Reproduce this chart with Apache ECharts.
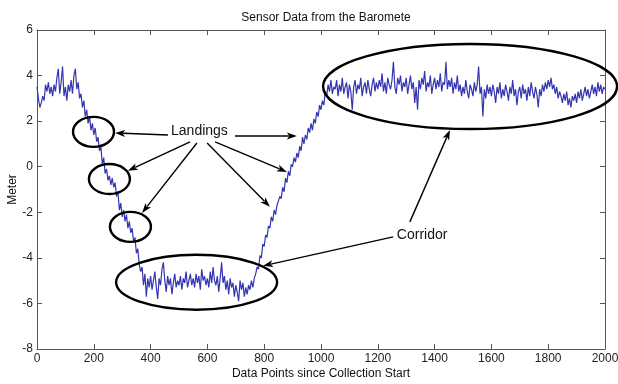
<!DOCTYPE html>
<html><head><meta charset="utf-8">
<script src="https://cdn.jsdelivr.net/npm/echarts@6/dist/echarts.min.js"></script>
<style>html,body{margin:0;padding:0;background:#fff}#c{width:618px;height:384px}</style>
</head><body><div id="c"></div>
<script>
// sampling step (data points) between stored readings
const STEP = 5;
// x = 0 .. 395 : start level and stepped descent with three landings
const descent = [
 3.5, 3.0, 2.6, 2.8, 3.1, 2.9, 3.6, 3.3, 3.7, 3.2,
 3.5, 3.1, 3.6, 3.3, 3.9, 4.3, 3.2, 3.7, 4.4, 3.1,
 3.5, 2.9, 3.6, 3.3, 3.8, 3.2, 4.0, 4.3, 3.4, 3.7,
 3.0, 3.2, 2.6, 2.9, 2.2, 2.5, 1.9, 2.2, 1.6, 1.9,
 1.4, 1.7, 1.1, 1.3, 0.7, 0.9, 0.1, 0.4, -0.3, -0.1,
 -0.6, -0.4, -0.8, -0.5, -0.9, -0.7, -1.3, -1.1, -1.9, -1.6,
 -2.2, -1.9, -2.4, -2.1, -2.7, -2.4, -2.9, -2.7, -3.3, -3.1,
 -3.8, -3.6, -4.3, -4.6, -4.4, -5.2, -4.7, -5.7, -4.9, -5.3
];
// x = 400 .. 745 : bottom level
const bottom = [
 -4.8, -5.4, -5.0, -4.6, -5.3, -5.8, -4.9, -5.2, -4.5, -4.2,
 -5.0, -5.5, -4.8, -5.2, -4.9, -5.6, -5.1, -4.7, -5.3, -5.0,
 -5.2, -4.8, -5.4, -4.9, -5.1, -4.6, -5.3, -5.0, -4.7, -5.2,
 -4.9, -5.3, -4.7, -5.1, -4.8, -5.4, -4.5, -5.0, -4.8, -5.2,
 -4.9, -5.3, -4.6, -5.1, -4.4, -5.0, -5.2, -4.8, -5.5, -4.9,
 -4.2, -5.1, -4.8, -5.4, -5.0, -5.6, -4.9, -5.3, -5.1, -5.7,
 -5.2, -5.5, -5.9, -5.0, -5.4, -5.1, -5.7, -5.3, -5.6, -5.2
];
// x = 750 .. 1045 : corridor climb
const climb = [
 -5.4, -5.0, -5.3, -4.9, -4.7, -4.4, -4.5, -3.9, -4.0, -3.4,
 -3.5, -3.0, -3.1, -2.6, -2.7, -2.2, -2.4, -1.9, -2.1, -1.7,
 -1.7, -1.3, -1.4, -0.9, -1.1, -0.5, -0.7, -0.2, -0.4, 0.1,
 0.0, 0.4, 0.2, 0.6, 0.4, 0.9, 0.7, 1.3, 1.0, 1.4,
 1.2, 1.7, 1.5, 1.9, 1.6, 2.1, 1.9, 2.4, 2.2, 2.7,
 2.5, 2.9, 2.7, 3.3, 3.1, 3.6, 3.3, 3.8, 3.2, 3.5
];
// x = 1050 .. 2000 : top level
const plateau = [
 3.4, 3.8, 3.1, 3.6, 3.3, 3.9, 3.2, 3.5, 3.7, 3.0,
 3.6, 3.3, 2.5, 3.5, 3.8, 3.2, 3.6, 3.4, 3.9, 3.1,
 3.5, 3.7, 3.2, 3.8, 3.4, 3.1, 3.6, 3.9, 3.3, 3.7,
 3.4, 3.8, 3.5, 4.1, 3.3, 3.7, 3.2, 3.9, 3.6, 3.4,
 3.8, 4.6, 3.5, 3.2, 3.9, 3.6, 4.0, 3.3, 3.7, 3.5,
 3.9, 3.2, 3.6, 4.0, 3.4, 3.7, 2.8, 3.5, 2.5, 3.8,
 3.4, 3.9, 3.6, 4.2, 3.3, 3.7, 3.5, 4.0, 3.2, 3.6,
 3.9, 3.4, 3.8, 3.5, 4.1, 3.3, 3.7, 3.6, 4.6, 3.4,
 3.8, 3.5, 3.9, 3.2, 3.7, 3.4, 4.0, 3.3, 3.6, 3.1,
 3.5, 3.2, 3.8, 3.3, 3.0, 3.6, 3.4, 3.1, 3.7, 3.3,
 3.6, 4.4, 3.2, 3.5, 2.2, 3.4, 3.0, 3.6, 3.2, 3.5,
 3.1, 3.6, 3.3, 2.8, 3.5, 3.2, 3.7, 3.0, 3.4, 3.1,
 3.6, 3.3, 2.9, 3.5, 3.2, 3.8, 3.1, 3.4, 2.7, 3.3,
 3.5, 3.0, 3.6, 3.2, 3.4, 2.9, 3.5, 3.1, 3.7, 3.3,
 3.0, 3.5, 3.2, 2.6, 3.4, 3.1, 3.6, 3.3, 3.7, 3.4,
 3.8, 3.5, 3.9, 3.4, 3.6, 3.2, 3.5, 3.0, 3.3, 3.1,
 2.8, 3.2, 2.9, 3.3, 2.7, 3.0, 2.6, 3.1, 2.9, 3.2,
 2.8, 3.3, 3.0, 3.4, 2.9, 3.2, 3.5, 3.1, 3.4, 3.0,
 3.3, 3.6, 3.2, 3.5, 3.1, 3.7, 3.3, 3.6, 3.2, 3.5,
 3.4
];
const TITLE = 'Sensor Data from the Baromete';
const X_NAME = 'Data Points since Collection Start';
const Y_NAME = 'Meter';

const values = descent.concat(bottom, climb, plateau);
const seriesData = values.map((v, i) => [i * STEP, v]);

// annotations, anchored in data coordinates (radii in px)
const ellipses = [
  {x: 199, y: 1.53, rx: 20.5, ry: 15},
  {x: 255, y: -0.54, rx: 20.5, ry: 15},
  {x: 329, y: -2.64, rx: 20.5, ry: 15},
  {x: 562, y: -5.07, rx: 80.5, ry: 27.5},
  {x: 1525, y: 3.52, rx: 147, ry: 42.5}
];
const labels = [
  {text: 'Landings', x: 572, y: 1.57},
  {text: 'Corridor', x: 1356, y: -3.0}
];
const arrows = [
  {from: [461, 1.39], to: [275, 1.48]},
  {from: [539, 1.09], to: [320, -0.18]},
  {from: [563, 1.04], to: [370, -2.03]},
  {from: [599, 1.04], to: [820, -1.76]},
  {from: [627, 1.09], to: [880, -0.23]},
  {from: [697, 1.35], to: [915, 1.35]},
  {from: [1254, -3.08], to: [796, -4.35]},
  {from: [1313, -2.42], to: [1454, 1.61]}
];

const FONT = '"Liberation Sans", Arial, Helvetica, sans-serif';
const axisLine = {show: true, onZero: false, lineStyle: {color: '#555', width: 1}};
const tick = {show: true, inside: true, length: 5, lineStyle: {color: '#555'}};
const lbl = {color: '#222', fontSize: 12, fontFamily: FONT, margin: 4, formatter: v => String(v)};

const chart = echarts.init(document.getElementById('c'), null, {renderer: 'canvas'});
chart.setOption({
  animation: false,
  backgroundColor: '#fff',
  title: {text: TITLE, left: 321, top: 7, textAlign: 'center',
    textStyle: {fontSize: 12, fontWeight: 'normal', color: '#111', fontFamily: FONT}},
  grid: {left: 37, right: 13, top: 30, bottom: 35, containLabel: false, outerBoundsMode: 'none'},
  xAxis: [
    {type: 'value', min: 0, max: 2000, interval: 200, position: 'bottom',
     name: X_NAME, nameLocation: 'middle', nameGap: 19, nameMoveOverlap: false,
     nameTextStyle: {fontSize: 12, color: '#111', fontFamily: FONT},
     axisLine, axisTick: tick, axisLabel: lbl, splitLine: {show: false}},
    {type: 'value', min: 0, max: 2000, interval: 200, position: 'top',
     axisLine, axisTick: tick, axisLabel: {show: false}, splitLine: {show: false}}
  ],
  yAxis: [
    {type: 'value', min: -8, max: 6, interval: 2, position: 'left',
     name: Y_NAME, nameLocation: 'middle', nameGap: 18, nameRotate: 90, nameMoveOverlap: false,
     nameTextStyle: {fontSize: 12, color: '#111', fontFamily: FONT},
     axisLine, axisTick: tick, axisLabel: lbl, splitLine: {show: false}},
    {type: 'value', min: -8, max: 6, interval: 2, position: 'right',
     axisLine, axisTick: tick, axisLabel: {show: false}, splitLine: {show: false}}
  ],
  series: [{
    type: 'line', data: seriesData, showSymbol: false, symbol: 'none',
    lineStyle: {color: '#3535b2', width: 1.2}, z: 2
  }]
});

const px = (x, y) => chart.convertToPixel({xAxisIndex: 0, yAxisIndex: 0}, [x, y]);
const g = [];
ellipses.forEach(e => {
  const c = px(e.x, e.y);
  g.push({type: 'ellipse', shape: {cx: c[0], cy: c[1], rx: e.rx, ry: e.ry},
    style: {fill: 'none', stroke: '#000', lineWidth: 2.4}, z: 10});
});
labels.forEach(l => {
  const c = px(l.x, l.y);
  g.push({type: 'text', x: c[0], y: c[1],
    style: {text: l.text, fill: '#111', font: '14px ' + FONT, textAlign: 'center', textVerticalAlign: 'middle'}, z: 10});
});
arrows.forEach(a => {
  const p1 = px(a.from[0], a.from[1]);
  const p2 = px(a.to[0], a.to[1]);
  const dx = p2[0] - p1[0], dy = p2[1] - p1[1];
  const len = Math.hypot(dx, dy);
  const ux = dx / len, uy = dy / len;
  const hl = 10, hw = 3.5;
  const bx = p2[0] - ux * hl, by = p2[1] - uy * hl;
  g.push({type: 'line', shape: {x1: p1[0], y1: p1[1], x2: bx + ux * 2, y2: by + uy * 2},
    style: {stroke: '#000', lineWidth: 1.4}, z: 10});
  g.push({type: 'polygon', shape: {points: [
      [p2[0], p2[1]], [bx - uy * hw, by + ux * hw], [bx + ux * 2.5, by + uy * 2.5], [bx + uy * hw, by - ux * hw]]},
    style: {fill: '#000'}, z: 10});
});
chart.setOption({graphic: g});
</script>
</body></html>
